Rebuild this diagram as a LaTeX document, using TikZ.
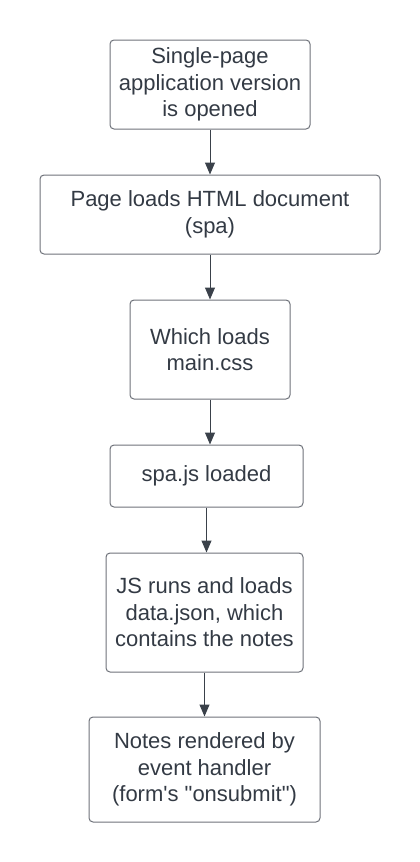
\documentclass[tikz,border=0pt]{standalone}
\usepackage{fontspec}
\setmainfont{Liberation Sans}[Ligatures=TeXOff]
\usetikzlibrary{arrows.meta}
\definecolor{boxline}{HTML}{6E727A}
\definecolor{arrowline}{HTML}{3A414A}
\definecolor{txt}{HTML}{333A44}
\begin{document}
\begin{tikzpicture}[x=1pt,y=-1pt,
        stepbox/.style={draw=boxline,line width=1pt,rounded corners=4pt,align=center,
            text=txt,inner sep=0pt,font=\fontsize{22}{26.5}\selectfont},
        flow/.style={draw=arrowline,line width=1pt,-{Triangle[length=12pt,width=10pt]}}]
        \useasboundingbox (0,0) rectangle (420,862);
        \node[stepbox,minimum width=200pt,minimum height=89pt] (open) at (210,84.5) {Single-page\\application version\\is opened};
        \node[stepbox,minimum width=340pt,minimum height=79pt] (html) at (210,214.5) {Page loads HTML document\\(spa)};
        \node[stepbox,minimum width=160pt,minimum height=99pt] (css) at (210,349.5) {Which loads\\main.css};
        \node[stepbox,minimum width=193pt,minimum height=62pt] (js) at (206.5,476) {spa.js loaded};
        \node[stepbox,minimum width=197pt,minimum height=119pt] (json) at (204.5,612.5) {JS runs and loads\\data.json, which\\contains the notes};
        \node[stepbox,minimum width=231pt,minimum height=105pt] (render) at (204.5,769.5) {Notes rendered by\\event handler\\(form's "onsubmit")};
        \draw[flow] (open.south) -- (open.south |- html.north);
        \draw[flow] (html.south) -- (html.south |- css.north);
        \draw[flow] (css.south) -- (css.south |- js.north);
        \draw[flow] (js.south) -- (js.south |- json.north);
        \draw[flow] (json.south) -- (json.south |- render.north);
    \end{tikzpicture}
\end{document}
